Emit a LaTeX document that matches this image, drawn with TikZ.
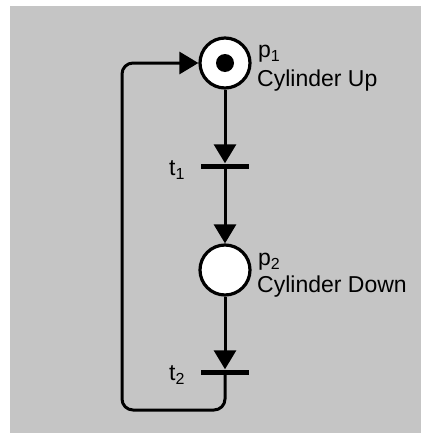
\documentclass[tikz,border=0pt]{standalone}
\usepackage{fontspec}
\setmainfont{Liberation Sans}
\usetikzlibrary{arrows.meta}
\definecolor{bggray}{RGB}{197,197,197}
\newcommand{\mysub}[1]{\raisebox{-0.35ex}{\fontsize{16}{16}\selectfont #1}}
\tikzset{
  place/.style={circle, draw=black, line width=3.2pt, fill=white, minimum size=50pt, inner sep=0pt},
  token/.style={circle, fill=black, minimum size=18pt, inner sep=0pt},
  trans/.style={rectangle, fill=black, minimum width=48pt, minimum height=5pt, inner sep=0pt},
  conn/.style={line width=3pt, draw=black},
  arr/.style={conn, -{Triangle[length=19pt, width=22pt]}},
  lbl/.style={font=\fontsize{23}{28}\selectfont, inner sep=0pt, text=black}
}
\begin{document}
\begin{tikzpicture}[x=1pt, y=-1pt]
\useasboundingbox (0,0) rectangle (421,434);
\fill[white] (0,0) rectangle (421,434);
\fill[bggray] (10,6) rectangle (421,433);

\node[place] (p1) at (225,63) {};
\node[token] (tok) at (225,63) {};
\node[place] (p2) at (225,270) {};
\node[trans] (t1) at (225,166) {};
\node[trans] (t2) at (225,372) {};

\node[lbl, anchor=base west] (p1l) at (258,57) {p\mysub{1}};
\node[lbl, anchor=base west] (p1n) at (257,86) {Cylinder Up};
\node[lbl, anchor=base west] (p2l) at (258,265) {p\mysub{2}};
\node[lbl, anchor=base west] (p2n) at (257,292) {Cylinder Down};
\node[lbl, anchor=base west] (t1l) at (169,175) {t\mysub{1}};
\node[lbl, anchor=base west] (t2l) at (169,380) {t\mysub{2}};

\coordinate (lb) at (122,410);

\draw[arr] (p1.south) -- (t1.north);
\draw[arr] (t1.south) -- (p2.north);
\draw[arr] (p2.south) -- (t2.north);
\draw[arr, rounded corners=11pt] (t2.south) |- (lb) |- (p1.west);
\end{tikzpicture}
\end{document}
